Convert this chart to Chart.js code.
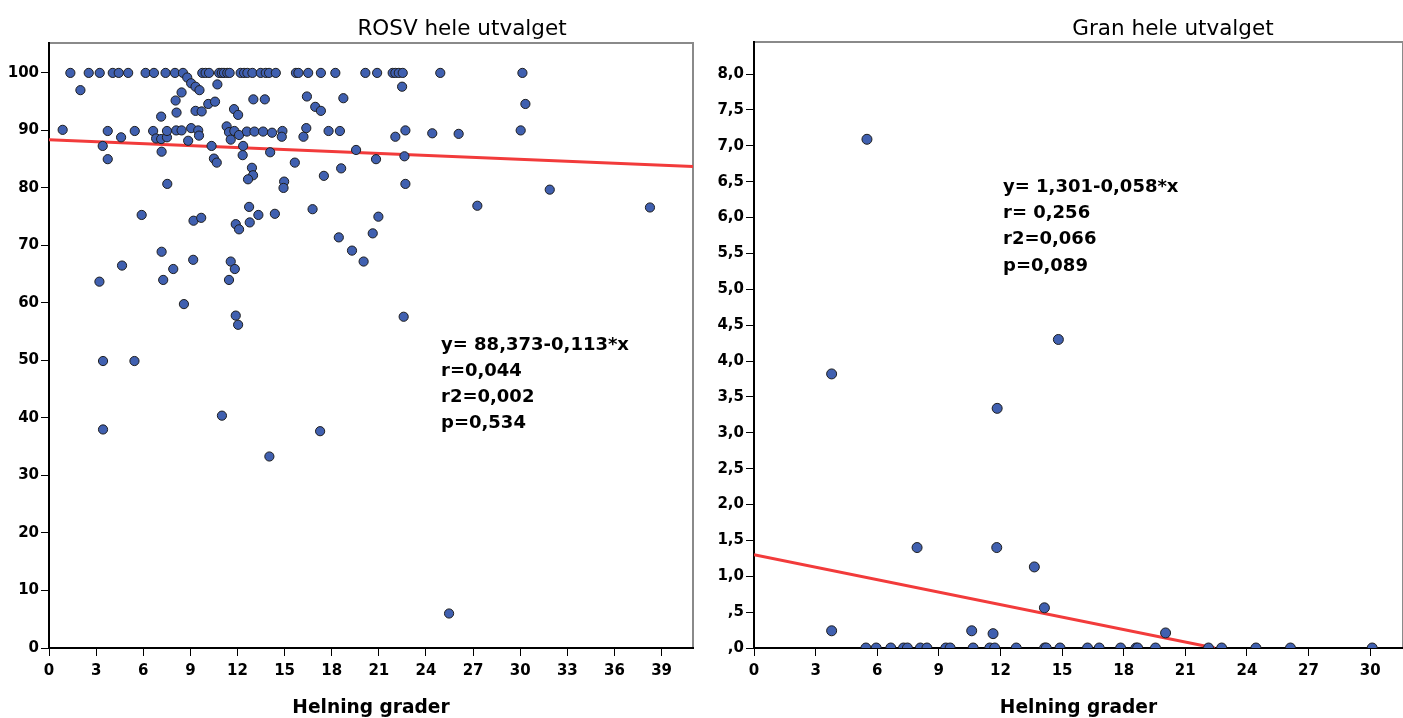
<!DOCTYPE html>
<html><head><meta charset="utf-8">
<script src="https://cdn.jsdelivr.net/npm/chart.js@4.4.1/dist/chart.umd.min.js"></script>
<style>
html,body{margin:0;padding:0;background:#fff;}
#wrap{position:relative;width:1403px;height:718px;overflow:hidden;background:#fff;}
#left{position:absolute;left:0;top:0;}
#right{position:absolute;left:700px;top:0;}
</style></head><body>
<div id="wrap">
<canvas id="left" width="700" height="718"></canvas>
<canvas id="right" width="703" height="718"></canvas>
</div>
<script>
// ---------- DATA ----------
const titles = ['ROSV hele utvalget', 'Gran hele utvalget'];
const xAxisTitle = 'Helning grader';

// Left: ROSV
const rosvX = [
 1.36,2.53,3.23,4.06,4.44,5.04,6.15,6.68,7.42,8.02,8.53,9.76,9.97,10.19,10.83,11.0,11.14,11.35,11.5,12.2,12.42,12.63,12.95,13.48,13.8,14.01,14.44,15.72,15.88,16.5,17.31,18.23,20.14,20.89,21.88,22.05,22.27,22.52,24.91,30.14,
 2.0,8.8,9.05,9.33,9.58,10.72,8.44,8.06,8.12,7.14,9.33,9.72,10.14,10.57,11.78,12.04,13.01,13.74,16.42,16.95,17.31,22.48,18.74,30.33,
 0.87,3.74,4.59,5.46,6.63,6.82,7.14,7.51,7.51,8.1,8.44,8.86,9.05,9.5,9.55,10.35,10.5,10.68,11.31,11.46,11.57,11.8,12.1,12.36,12.33,12.6,13.08,13.63,14.2,14.86,14.82,14.08,12.92,12.99,12.67,15.65,14.97,14.93,17.5,16.38,16.2,17.8,18.52,18.6,7.17,7.53,3.42,3.74,19.55,20.82,22.05,22.69,22.63,24.4,26.08,30.03,22.69,31.88,
 27.27,38.26,16.78,20.97,5.9,9.2,9.69,11.89,12.1,12.74,12.78,13.33,14.38,18.45,20.61,19.29,20.03,
 7.17,4.65,3.21,7.27,7.91,9.18,11.57,11.83,11.46,8.59,11.89,12.04,22.58,
 3.44,5.44,3.44,11.01,14.03,17.26,25.47
];
const rosvY = [
 100,100,100,100,100,100,100,100,100,100,100,100,100,100,100,100,100,100,100,100,100,100,100,100,100,100,100,100,100,100,100,100,100,100,100,100,100,100,100,100,
 97.0,99.2,98.2,97.6,97.0,98.0,96.6,95.2,93.1,92.4,93.4,93.3,94.6,95.0,93.7,92.7,95.4,95.4,95.9,94.1,93.4,97.6,95.6,94.6,
 90.1,89.9,88.8,89.9,89.9,88.6,88.5,88.8,89.9,90.0,90.0,88.2,90.4,90.0,89.1,87.3,85.1,84.4,90.7,89.7,88.4,89.9,89.2,87.3,85.7,89.8,89.8,89.8,89.6,89.9,88.9,86.2,83.5,82.2,81.5,84.4,81.1,80.0,82.1,90.4,88.9,89.9,89.9,83.4,86.3,80.7,87.3,85.0,86.6,85.0,88.9,90.0,85.5,89.5,89.4,90.0,80.7,79.7,
 76.9,76.6,76.3,75.0,75.3,74.3,74.8,73.7,72.8,76.7,74.0,75.3,75.5,71.4,72.1,69.1,67.2,
 68.9,66.5,63.7,64.0,65.9,67.5,67.2,65.9,64.0,59.8,57.8,56.2,57.6,
 49.9,49.9,38.0,40.4,33.3,37.7,6.0
];
const rosvFitX = [0, 41];
const rosvFitY = [88.37, 83.74];
const rosvXTicks = [0,3,6,9,12,15,18,21,24,27,30,33,36,39];
const rosvYTicks = [0,10,20,30,40,50,60,70,80,90,100];
const rosvStats = ['y= 88,373-0,113*x', 'r=0,044', 'r2=0,002', 'p=0,534'];

// Right: Gran
const granX = [
 5.45,5.95,6.66,7.28,7.47,8.1,8.42,9.34,9.55,10.67,11.48,11.72,12.77,14.15,14.23,14.9,16.24,16.81,17.85,18.6,18.68,19.55,22.13,22.77,24.44,26.12,30.1,
 3.78,3.78,5.5,7.94,11.82,11.84,14.82,13.65,14.14,10.6,11.64,20.04
];
const granY = [
 0,0,0,0,0,0,0,0,0,0,0,0,0,0,0,0,0,0,0,0,0,0,0,0,0,0,0,
 3.82,0.24,7.09,1.40,1.40,3.34,4.30,1.13,0.56,0.24,0.20,0.21
];
const granFitX = [0, 22.43];
const granFitY = [1.301, 0];
const granXTicks = [0,3,6,9,12,15,18,21,24,27,30];
const granYTicks = [0,0.5,1,1.5,2,2.5,3,3.5,4,4.5,5,5.5,6,6.5,7,7.5,8];
const granYLabels = [',0',',5','1,0','1,5','2,0','2,5','3,0','3,5','4,0','4,5','5,0','5,5','6,0','6,5','7,0','7,5','8,0'];
const granStats = ['y= 1,301-0,058*x', 'r= 0,256', 'r2=0,066', 'p=0,089'];

// ---------- STYLE ----------
const FONT = "'DejaVu Sans', 'Liberation Sans', sans-serif";
const POINT_FILL = '#4060b0';
const POINT_EDGE = '#1e1e1e';
const FIT_COLOR = '#f23b3b';

function pts(xs, ys){ return xs.map((x,i)=>({x:x, y:ys[i]})); }

function makeScale(min, max, tickVals, fitSize, isX, labels){
  return {
    type:'linear', min:min, max:max,
    afterBuildTicks: s => { s.ticks = tickVals.map(v=>({value:v})); },
    afterFit: s => {
      if (isX) { s.height = fitSize; s.paddingLeft = 0; s.paddingRight = 0; }
      else { s.width = fitSize; s.paddingTop = 0; s.paddingBottom = 0; }
    },
    grid:{ display:true, drawOnChartArea:false, drawTicks:true, tickLength:8, color:'#000', lineWidth:1 },
    border:{ display:true, color:'#000', width:2 },
    ticks:{
      color:'#000', font:{family:FONT, size:15, weight:'bold'}, padding: isX ? 6 : 2,
      maxRotation:0, autoSkip:false,
      callback: (v, i) => labels ? labels[i] : String(v)
    }
  };
}

const textPlugin = {
  id:'texts',
  beforeDraw(chart, args, o){
    const c = chart.ctx, a = chart.chartArea;
    c.save();
    c.fillStyle = '#fff'; c.fillRect(0,0,chart.width,chart.height);
    c.strokeStyle = '#8a8a8a'; c.lineWidth = 2;
    c.strokeRect(a.left, a.top, a.right - a.left, a.bottom - a.top);
    c.restore();
  },
  afterDraw(chart, args, o){
    const c = chart.ctx, a = chart.chartArea;
    c.save();
    c.fillStyle = '#000';
    c.textBaseline = 'alphabetic';
    c.textAlign = 'center';
    c.font = `21.5px ${FONT}`;
    c.fillText(o.title, o.titleX, o.titleY);
    c.font = `bold 18.6px ${FONT}`;
    c.fillText(o.axisTitle, (a.left + a.right)/2, 713);
    c.textAlign = 'left';
    c.font = `bold 18px ${FONT}`;
    o.stats.forEach((t,i)=> c.fillText(t, o.statX, o.statY[i]));
    c.restore();
  }
};

function makeChart(id, cfg){
  return new Chart(document.getElementById(id), {
    type:'scatter',
    data:{ datasets:[
      { data: pts(cfg.xs, cfg.ys), pointRadius: cfg.r, pointHoverRadius: cfg.r,
        backgroundColor: POINT_FILL, borderColor: POINT_EDGE, borderWidth: 1, clip: cfg.clip },
      { type:'line', data: pts(cfg.fx, cfg.fy), showLine:true, pointRadius:0,
        borderColor: FIT_COLOR, borderWidth: 3, fill:false, clip: 0 }
    ]},
    options:{
      responsive:false, animation:false, events:[],
      layout:{ padding: cfg.padding, autoPadding:false },
      plugins:{ legend:{display:false}, tooltip:{enabled:false},
        texts:{ title: cfg.title, titleX: cfg.titleX, titleY: cfg.titleY, axisTitle: xAxisTitle,
                stats: cfg.stats, statX: cfg.statX, statY: cfg.statY } },
      scales:{
        x: makeScale(cfg.xmin, cfg.xmax, cfg.xt, 70, true, null),
        y: makeScale(cfg.ymin, cfg.ymax, cfg.yt, cfg.yw, false, cfg.yl)
      }
    },
    plugins:[textPlugin]
  });
}

makeChart('left', {
  xs: rosvX, ys: rosvY, fx: rosvFitX, fy: rosvFitY, r: 4.6, clip: 0,
  padding:{top:43, right:7, left:0, bottom:0},
  xmin:0, xmax:41, xt: rosvXTicks, ymin:0, ymax:105.2, yt: rosvYTicks, yw:49, yl:null,
  title: titles[0], titleX: 462, titleY: 35,
  stats: rosvStats, statX: 441, statY: [349.5, 375.5, 401.5, 427.5]
});

makeChart('right', {
  xs: granX, ys: granY, fx: granFitX, fy: granFitY, r: 5, clip: 0,
  padding:{top:42, right:0, left:0, bottom:0},
  xmin:0, xmax:31.6, xt: granXTicks, ymin:0, ymax:8.446, yt: granYTicks, yw:54, yl: granYLabels,
  title: titles[1], titleX: 473, titleY: 34.5,
  stats: granStats, statX: 303, statY: [191.5, 217.5, 244, 270.5]
});
</script>
</body></html>
